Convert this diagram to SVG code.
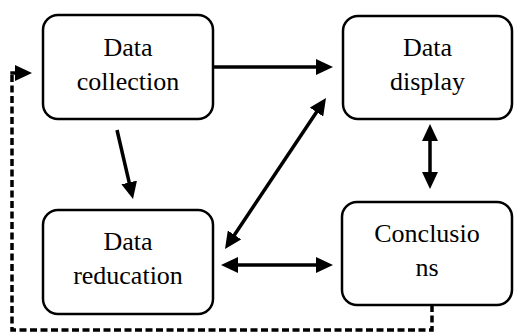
<svg xmlns="http://www.w3.org/2000/svg" width="514" height="332" viewBox="0 0 514 332">
<defs>
<style>
.box{fill:#fff;stroke:#000;stroke-width:2.5}
.lbl{font-family:'Liberation Serif','DejaVu Serif','Times New Roman',serif;font-size:26px;fill:#000;text-anchor:middle}
.con{fill:none;stroke:#000;stroke-width:3.5}
.dash{fill:none;stroke:#000;stroke-width:3.5;stroke-dasharray:7 3.5}
</style>
<marker id="ah" viewBox="0 0 17 16" markerWidth="17" markerHeight="16" refX="1" refY="8" markerUnits="userSpaceOnUse" orient="auto-start-reverse">
<path d="M0,0 L17,8 L0,16 z" fill="#000"/>
</marker>
</defs>
<rect width="514" height="332" fill="#fff"/>
<g id="connectors">
<line class="con" x1="213" y1="67" x2="317" y2="67" marker-end="url(#ah)"/>
<line class="con" x1="117" y1="130" x2="129.4" y2="183.4" marker-end="url(#ah)"/>
<line class="con" x1="233.9" y1="235.7" x2="317.1" y2="111.3" marker-start="url(#ah)" marker-end="url(#ah)"/>
<line class="con" x1="430" y1="140" x2="430" y2="173" marker-start="url(#ah)" marker-end="url(#ah)"/>
<line class="con" x1="237" y1="265" x2="317" y2="265" marker-start="url(#ah)" marker-end="url(#ah)"/>
<path class="dash" d="M432,305 V330 H12 V75"/>
<line class="con" x1="10.3" y1="73" x2="16" y2="73" marker-end="url(#ah)"/>
</g>
<g id="node-collection">
<rect class="box" x="43" y="15" width="170" height="104" rx="15"/>
<text class="lbl" x="128" y="56">Data</text>
<text class="lbl" x="128" y="90">collection</text>
</g>
<g id="node-display">
<rect class="box" x="343" y="16" width="169" height="103" rx="15"/>
<text class="lbl" x="427.5" y="56">Data</text>
<text class="lbl" x="427.5" y="90">display</text>
</g>
<g id="node-reducation">
<rect class="box" x="43" y="210" width="170" height="104" rx="15"/>
<text class="lbl" x="128" y="250">Data</text>
<text class="lbl" x="128" y="284">reducation</text>
</g>
<g id="node-conclusions">
<rect class="box" x="342" y="202" width="170" height="103" rx="15"/>
<text class="lbl" x="427" y="242">Conclusio</text>
<text class="lbl" x="427" y="276">ns</text>
</g>
</svg>
